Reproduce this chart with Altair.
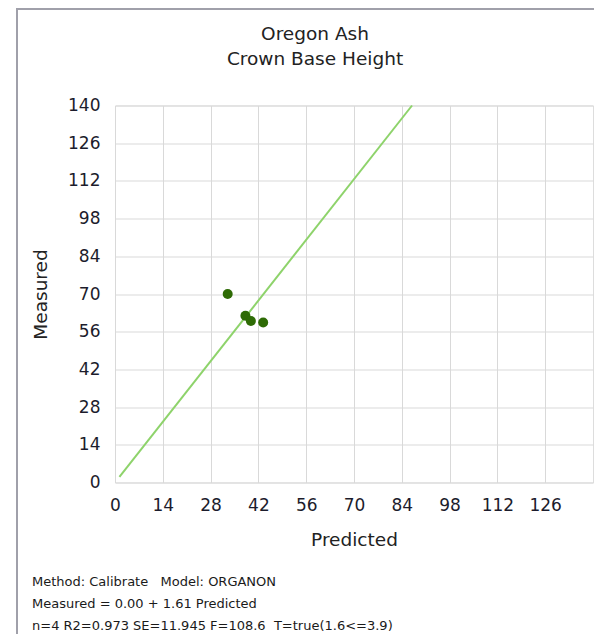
import altair as alt
import pandas as pd

# ---- data ----
pred = [33.0, 38.2, 39.8, 43.4]
meas = [70.0, 61.9, 60.0, 59.4]
fit_x = [1.3, 87.0]
fit_y = [2.1, 140.0]
x_ticks = [0, 14, 28, 42, 56, 70, 84, 98, 112, 126]
y_ticks = [0, 14, 28, 42, 56, 70, 84, 98, 112, 126, 140]
title_lines = ["Oregon Ash", "Crown Base Height"]
footer_lines = [
    "Method: Calibrate\u00a0\u00a0 Model: ORGANON",
    "Measured = 0.00 + 1.61 Predicted",
    "n=4 R2=0.973 SE=11.945 F=108.6\u00a0 T=true(1.6<=3.9)",
]

FONT = "DejaVu Sans"
W, H = 478, 377

pts = pd.DataFrame({"Predicted": pred, "Measured": meas})
fit = pd.DataFrame({"Predicted": fit_x, "Measured": fit_y})

xscale = alt.Scale(domain=[0, 140], nice=False, zero=True)
yscale = alt.Scale(domain=[0, 140], nice=False, zero=True)

xaxis = alt.Axis(values=x_ticks, title="Predicted", ticks=False, domain=False,
                 labelPadding=15, titlePadding=17, labelFontSize=17,
                 titleFontSize=18.5, titleFontWeight="normal",
                 labelColor="#1c1c2c", titleColor="#222222",
                 labelFont=FONT, titleFont=FONT, gridColor="#d9d9d9",
                 labelAngle=0, labelFlush=False, labelOverlap=False)
yaxis = alt.Axis(values=y_ticks, title="Measured", ticks=False, domain=False,
                 labelPadding=15, titlePadding=17, labelFontSize=17,
                 titleFontSize=18.5, titleFontWeight="normal",
                 labelColor="#1c1c2c", titleColor="#222222",
                 labelFont=FONT, titleFont=FONT, gridColor="#d9d9d9",
                 labelFlush=False, labelOverlap=False)

X = alt.X("Predicted:Q", scale=xscale, axis=xaxis)
Y = alt.Y("Measured:Q", scale=yscale, axis=yaxis)

line = alt.Chart(fit).mark_line(color="#8ed36b", strokeWidth=2).encode(x=X, y=Y)

points = alt.Chart(pts).mark_circle(color="#2e6b05", opacity=1, size=100).encode(x=X, y=Y)

title_layers = []
for i, t in enumerate(title_lines):
    title_layers.append(
        alt.Chart(pd.DataFrame({"t": [t]})).mark_text(
            align="center", baseline="alphabetic", font=FONT, fontSize=18.5,
            color="#222222"
        ).encode(text="t:N", x=alt.value(200), y=alt.value(-66 + 25 * i))
    )

footer_layers = []
for i, t in enumerate(footer_lines):
    footer_layers.append(
        alt.Chart(pd.DataFrame({"t": [t]})).mark_text(
            align="left", baseline="alphabetic", font=FONT, fontSize=13,
            color="#1a1a1a"
        ).encode(text="t:N", x=alt.value(-83), y=alt.value(480 + 22 * i))
    )

frame_v = alt.Chart(pd.DataFrame({"a": [0]})).mark_rule(
    color="#a0a0aa", strokeWidth=2).encode(
    x=alt.value(-98), y=alt.value(-97.5), y2=alt.value(530))
frame_h = alt.Chart(pd.DataFrame({"a": [0]})).mark_rule(
    color="#a0a0aa", strokeWidth=2).encode(
    x=alt.value(-98), x2=alt.value(480), y=alt.value(-96.5))

chart = alt.layer(line, points, *title_layers, *footer_layers, frame_v, frame_h).properties(
    width=W, height=H,
    autosize=alt.AutoSizeParams(type="none"),
    padding={"left": 107, "top": 97.5, "right": 1, "bottom": 151.5},
).configure_view(stroke="#a8a8a8", strokeWidth=2).configure(background="white")

chart.save("out.html", embed_options={"renderer": "svg", "actions": False})
